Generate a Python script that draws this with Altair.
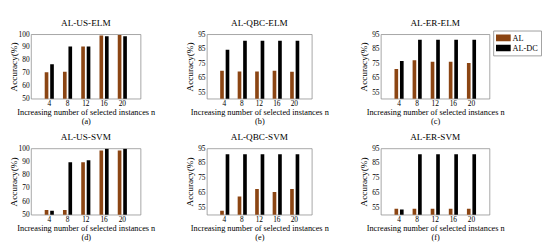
import altair as alt
import pandas as pd

# ---- data ----
ns = ["4", "8", "12", "16", "20"]
methods = ["AL", "AL-DC"]

a_al = [70.5, 71.0, 90.5, 99.0, 99.5]
a_dc = [76.7, 90.5, 90.5, 98.5, 98.5]
b_al = [70.0, 69.6, 69.6, 70.0, 69.4]
b_dc = [84.5, 90.5, 90.5, 90.5, 90.5]
c_al = [71.2, 77.2, 76.2, 76.2, 75.4]
c_dc = [76.8, 91.2, 91.2, 91.2, 91.2]
d_al = [53.5, 53.5, 89.5, 98.5, 98.5]
d_dc = [53.0, 89.5, 91.0, 99.8, 99.8]
e_al = [52.6, 62.4, 67.4, 65.4, 67.4]
e_dc = [91.0, 91.0, 91.0, 91.0, 91.0]
f_al = [54.0, 54.0, 54.0, 54.0, 54.0]
f_dc = [53.5, 91.0, 91.0, 91.0, 91.0]

titles = ["AL-US-ELM", "AL-QBC-ELM", "AL-ER-ELM", "AL-US-SVM", "AL-QBC-SVM", "AL-ER-SVM"]
subs = ["(a)", "(b)", "(c)", "(d)", "(e)", "(f)"]
ticks100 = [50, 60, 70, 80, 90, 100]
ticks95 = [55, 65, 75, 85, 95]

xtitle = "Increasing number of selected instances n"
colors = ["#8B4513", "#000000"]
FONT = "Liberation Serif"


def panel(title, sub, al, dc, domain, ticks, w, h, legend=False):
    df = pd.DataFrame({
        "n": ns * 2,
        "method": [methods[0]] * len(ns) + [methods[1]] * len(ns),
        "acc": al + dc,
    })
    if legend:
        leg = alt.Legend(
            title=None, orient="none", legendX=122, legendY=-4,
            strokeColor="#999", fillColor="white", padding=3,
            rowPadding=1, labelFontSize=9, labelFont=FONT,
            symbolType="M-1,-0.45H1V0.45H-1Z", symbolSize=256,
            symbolStrokeWidth=0, labelOffset=2, clipHeight=10,
        )
    else:
        leg = None
    return alt.Chart(df).mark_bar(clip=True).encode(
        x=alt.X("n:O", sort=ns,
                scale=alt.Scale(paddingInner=0, paddingOuter=0.5),
                axis=alt.Axis(title=[xtitle, sub], labelAngle=0)),
        xOffset=alt.XOffset("method:N", sort=methods,
                            scale=alt.Scale(paddingInner=0.333, paddingOuter=0.833)),
        y=alt.Y("acc:Q",
                scale=alt.Scale(domain=domain, zero=False, nice=False),
                axis=alt.Axis(values=ticks, title="Accuracy(%)")),
        color=alt.Color("method:N",
                        scale=alt.Scale(domain=methods, range=colors),
                        legend=leg),
    ).properties(width=w, height=h, title=title)


pa = panel(titles[0], subs[0], a_al, a_dc, [50, 100], ticks100, 119, 70)
pb = panel(titles[1], subs[1], b_al, b_dc, [51, 95], ticks95, 114, 70)
pc = panel(titles[2], subs[2], c_al, c_dc, [51, 95], ticks95, 118, 70, legend=True)
pd_ = panel(titles[3], subs[3], d_al, d_dc, [50, 100], ticks100, 119, 72)
pe = panel(titles[4], subs[4], e_al, e_dc, [50, 95], ticks95, 114, 72)
pf = panel(titles[5], subs[5], f_al, f_dc, [50, 95], ticks95, 118, 72)

row1 = alt.hconcat(pa, pb, pc, spacing=31).resolve_legend(color="independent")
row2 = alt.hconcat(pd_, pe, pf, spacing=31).resolve_legend(color="independent")

chart = alt.vconcat(row1, row2, spacing=6).resolve_legend(
    color="independent"
).properties(padding=0).configure_view(
    stroke="#888", strokeWidth=0.8
).configure_axis(
    grid=False, ticks=False, domain=False,
    labelFont=FONT, titleFont=FONT, labelFontSize=8,
    titleFontWeight="normal", labelColor="black", titleColor="black",
).configure_axisX(
    labelPadding=1, titlePadding=1, titleFontSize=9, titleLineHeight=10,
).configure_axisY(
    labelPadding=2, titlePadding=1, titleFontSize=10,
    minExtent=13, maxExtent=13,
).configure_title(
    font=FONT, fontSize=10, fontWeight="normal", offset=3, color="black",
).configure_legend(
    labelFont=FONT,
)

chart.save("out.html", embed_options={"renderer": "svg", "actions": False})
